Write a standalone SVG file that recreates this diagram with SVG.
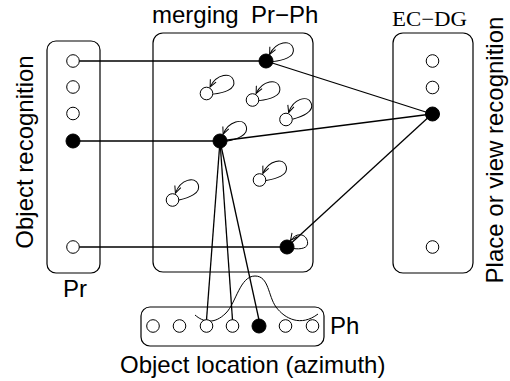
<svg xmlns="http://www.w3.org/2000/svg" xmlns:xlink="http://www.w3.org/1999/xlink" width="510" height="381" viewBox="0 0 510 381">
  <style>
    .box { fill: none; stroke: #000; stroke-width: 1.2; }
    .edge { fill: none; stroke: #000; stroke-width: 1.3; }
    .loop { fill: none; stroke: #000; stroke-width: 1; }
    .off { fill: #fff; stroke: #000; stroke-width: 1; }
    .on { fill: #000; stroke: #000; stroke-width: 1; }
    .lbl { font-family: "Liberation Sans", Arial, Helvetica, sans-serif; font-size: 24px; fill: #000; }
    .ser { font-family: "Liberation Serif", "Times New Roman", serif; font-size: 21px; fill: #000; }
  </style>
  <defs>
    <marker id="vhead" viewBox="-8 -4 9 8" refX="0" refY="0" markerWidth="9" markerHeight="8" markerUnits="userSpaceOnUse" orient="auto">
      <path d="M-7,-3.2 L0,0 L-7,3.2" fill="none" stroke="#000" stroke-width="1"/>
    </marker>
    <!-- self-loop drawn along +x, node centred at the origin -->
    <path id="selfloop" class="loop" d="M5.5,3.5 C15,7 28,10 30,1 C32,-8 18,-13 6.2,-4.2" marker-end="url(#vhead)"/>
  </defs>

  <!-- layer containers -->
  <g id="layer-pr">
    <rect class="box" x="47" y="41" width="53" height="232" rx="9"/>
    <text class="lbl" x="75" y="297" text-anchor="middle">Pr</text>
    <text class="lbl" transform="translate(33,152) rotate(-90)" text-anchor="middle">Object recognition</text>
  </g>
  <g id="layer-merge">
    <rect class="box" x="153" y="33" width="160" height="239" rx="10"/>
    <text class="lbl" x="152" y="23">merging</text>
    <text class="lbl" x="251" y="23">Pr−Ph</text>
  </g>
  <g id="layer-ecdg">
    <rect class="box" x="393" y="33" width="80" height="240" rx="10"/>
    <text class="ser" x="392" y="25.5" textLength="75" lengthAdjust="spacingAndGlyphs">EC−DG</text>
    <text class="lbl" transform="translate(503,150) rotate(-90)" text-anchor="middle">Place or view recognition</text>
  </g>
  <g id="layer-ph">
    <rect class="box" x="141" y="307" width="183" height="39" rx="9"/>
    <text class="lbl" x="330" y="334">Ph</text>
    <text class="lbl" x="120" y="373">Object location (azimuth)</text>
  </g>

  <!-- connectors -->
  <g id="connectors">
    <line class="edge" x1="73" y1="61" x2="266" y2="61"/>
    <line class="edge" x1="73" y1="141" x2="220" y2="141"/>
    <line class="edge" x1="73" y1="247" x2="287" y2="247"/>
    <line class="edge" x1="266" y1="61" x2="432" y2="114"/>
    <line class="edge" x1="220" y1="141" x2="432" y2="114"/>
    <line class="edge" x1="287" y1="247" x2="432" y2="114"/>
    <line class="edge" x1="220" y1="141" x2="206.5" y2="320"/>
    <line class="edge" x1="220" y1="141" x2="232.5" y2="320"/>
    <line class="edge" x1="220" y1="141" x2="259" y2="320"/>
    <!-- azimuth tuning curve over the Ph units -->
    <path class="loop" d="M195,315 C203,322 214,325 226,313 C236,303 240,276 255,276 C269,276 268,296 276,307 C285,319 301,327 318,314"/>
  </g>

  <!-- Pr units -->
  <g id="pr-1"><circle class="off" cx="73" cy="61" r="6.3"/></g>
  <g id="pr-2"><circle class="off" cx="73" cy="87" r="6.3"/></g>
  <g id="pr-3"><circle class="off" cx="73" cy="113.5" r="6.3"/></g>
  <g id="pr-4"><circle class="on" cx="73" cy="141" r="7"/></g>
  <g id="pr-5"><circle class="off" cx="73" cy="247" r="6.3"/></g>

  <!-- merging units with recurrent self-connections -->
  <g id="m-1"><use xlink:href="#selfloop" transform="translate(266,61) rotate(-27)"/><circle class="on" cx="266" cy="61" r="7"/></g>
  <g id="m-2"><use xlink:href="#selfloop" transform="translate(206.5,93.5) rotate(-27)"/><circle class="off" cx="206.5" cy="93.5" r="6.3"/></g>
  <g id="m-3"><use xlink:href="#selfloop" transform="translate(252.5,100) rotate(-27)"/><circle class="off" cx="252.5" cy="100" r="6.3"/></g>
  <g id="m-4"><use xlink:href="#selfloop" transform="translate(286,119.5) rotate(-35)"/><circle class="off" cx="286" cy="119.5" r="6.3"/></g>
  <g id="m-5"><use xlink:href="#selfloop" transform="translate(220,141) rotate(-31)"/><circle class="on" cx="220" cy="141" r="7"/></g>
  <g id="m-6"><use xlink:href="#selfloop" transform="translate(259.5,180) rotate(-29)"/><circle class="off" cx="259.5" cy="180" r="6.3"/></g>
  <g id="m-7"><use xlink:href="#selfloop" transform="translate(172.5,200) rotate(-33)"/><circle class="off" cx="172.5" cy="200" r="6.3"/></g>
  <g id="m-8">
    <path class="loop" d="M293.5,248.5 C300,249.5 309,248.5 307.5,241.5 C306,234 297,231.5 290.5,240.5" marker-end="url(#vhead)"/>
    <circle class="on" cx="287" cy="247" r="7"/>
  </g>

  <!-- EC-DG units -->
  <g id="ec-1"><circle class="off" cx="432.5" cy="61" r="6.3"/></g>
  <g id="ec-2"><circle class="off" cx="432.5" cy="87.5" r="6.3"/></g>
  <g id="ec-3"><circle class="on" cx="432.5" cy="114" r="7"/></g>
  <g id="ec-4"><circle class="off" cx="432.5" cy="247" r="6.3"/></g>

  <!-- Ph units -->
  <g id="ph-1"><circle class="off" cx="153" cy="326" r="6.3"/></g>
  <g id="ph-2"><circle class="off" cx="179.5" cy="326" r="6.3"/></g>
  <g id="ph-3"><circle class="off" cx="206.5" cy="326" r="6.3"/></g>
  <g id="ph-4"><circle class="off" cx="232.5" cy="326" r="6.3"/></g>
  <g id="ph-5"><circle class="on" cx="259" cy="326" r="7"/></g>
  <g id="ph-6"><circle class="off" cx="285.5" cy="326" r="6.3"/></g>
  <g id="ph-7"><circle class="off" cx="312.5" cy="326" r="6.3"/></g>
</svg>
